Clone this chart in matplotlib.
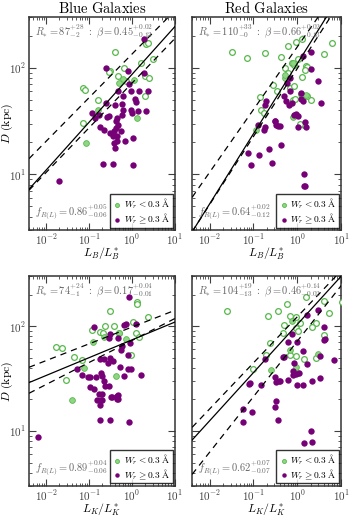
import matplotlib
matplotlib.use("Agg")
import matplotlib.pyplot as plt
import numpy as np
from matplotlib.ticker import LogLocator, NullFormatter, FuncFormatter

plt.rcParams['mathtext.fontset'] = 'cm'
plt.rcParams['font.family'] = 'serif'
plt.rcParams['font.serif'] = ['DejaVu Serif']

# ---- data (L/L*, D in kpc) ----
# top left: blue galaxies, L_B
tl_abs_x = [1.85, 0.243, 0.81, 1.87, 0.855, 0.965, 0.473, 1.44, 2.35, 0.624, 0.252, 1.19, 1.22,
            0.404, 0.59, 0.115, 0.17, 0.285, 0.44, 0.60, 0.57, 1.0, 0.137, 0.425, 0.26, 0.175,
            0.22, 0.31, 0.37, 0.43, 0.48, 0.55, 0.357, 0.44, 0.68, 1.07, 0.37, 0.456, 0.404,
            0.211, 0.364, 1.07, 0.020, 1.37, 2.1, 0.965]
tl_abs_y = [187, 99, 94, 90, 71, 61, 60, 60, 60, 54, 47, 51, 48,
            44.5, 46, 38, 36, 35, 34, 40.5, 36, 38, 34, 31.5, 34.7, 27.9,
            25.9, 24.5, 25.5, 27.5, 29.3, 25.7, 22.8, 22.8, 20.5, 21.7, 19.8, 20.5, 17.8,
            12.6, 12.6, 12.2, 8.6, 39, 39, 40.5]
tl_lim_x = [2.08, 2.31, 0.404, 3.0, 1.58, 0.30, 0.285, 0.658, 1.97, 2.53, 0.48, 0.72, 0.073,
            0.081, 0.16, 2.04, 0.073]
tl_lim_y = [168, 171, 140, 121, 112, 94, 92, 99, 84, 80, 84, 76, 65,
            62, 50, 54, 30.6]
tl_low_x = [0.60, 1.11, 0.162, 1.30, 0.087, 0.49]
tl_low_y = [79, 77, 40.5, 34, 19.8, 72]

# top right: red galaxies, L_B
tr_abs_x = [1.37, 2.07, 2.0, 2.88, 3.47, 1.24, 1.20, 1.32, 0.50, 0.556, 0.76, 0.634, 0.91, 1.04,
            0.125, 0.186, 0.316, 0.334, 0.40, 1.04, 1.52, 0.578, 0.69, 0.67, 0.193, 0.186,
            0.075, 0.134, 0.231, 0.423, 0.086, 0.268, 1.44, 1.39, 1.49, 0.304, 0.367, 0.86,
            1.58, 0.176]
tr_abs_y = [129, 142, 97, 74.5, 46.8, 58.7, 51, 49, 54, 49, 46.8, 44.5, 36.9, 35.6,
            28.9, 27.7, 31.5, 29.3, 28.7, 27.9, 31.1, 72, 80, 61, 48.4, 44.5,
            16, 15.1, 17.1, 18.8, 12.1, 12.7, 10, 7.7, 7.8, 32, 28.7, 36,
            27.9, 26.3]
tr_lim_x = [0.033, 0.073, 0.186, 0.423, 0.61, 0.95, 1.27, 6.1, 3.94, 0.76, 0.83, 1.06, 0.51,
            1.58, 1.66, 1.47, 1.27, 0.61, 0.279, 0.69, 0.83, 0.139, 0.79, 0.88, 1.20, 1.66,
            2.0, 0.147, 0.176, 0.88, 1.44, 1.16, 0.347]
tr_lim_y = [140, 125, 139, 126, 162, 174, 187, 173, 134, 111, 107, 121, 99,
            105, 103, 96, 83, 90, 69, 65, 67, 52.7, 50, 51, 56.7, 55,
            50, 40.5, 37.8, 36, 29.3, 30, 60]
tr_low_x = [0.80, 0.526, 0.526, 1.58, 0.83, 0.80, 0.116]
tr_low_y = [111, 80, 86, 56, 35, 34.6, 26]

# bottom left: blue galaxies, L_K
bl_abs_x = [0.855, 0.132, 0.658, 0.48, 0.295, 0.30, 0.705, 1.25, 0.571, 0.887, 0.81, 0.542,
            0.175, 0.219, 0.30, 0.351, 0.275, 0.525, 0.81, 0.934, 1.58, 0.648, 0.070, 0.105,
            0.142, 0.185, 0.20, 0.219, 0.231, 0.285, 0.13, 0.169, 0.20, 0.328, 0.463, 0.463,
            0.154, 0.20, 0.178, 0.181, 0.30, 0.84, 0.0065, 0.053, 0.096, 0.104, 0.339, 0.44,
            0.456, 0.187]
bl_abs_y = [188, 98.5, 102, 77.8, 76.8, 83.6, 104, 104, 64.1, 68.9, 53.6, 59.7,
            48.1, 48.1, 49.9, 46.4, 44.8, 40.7, 38.8, 38.8, 34.3, 33.1, 34.1, 32.4,
            32.4, 35.6, 33.6, 30.2, 27.1, 27.1, 25.2, 22.7, 22.7, 21.1, 21.9, 20.3,
            19.6, 19.6, 17.6, 12.6, 12.6, 12.1, 8.7, 38.8, 32.4, 26.2, 21.1, 21.6,
            20.3, 19.9]
bl_lim_x = [1.28, 1.30, 0.311, 2.35, 1.04, 0.115, 0.175, 0.208, 0.39, 0.0166, 0.0235, 0.045,
            0.068, 1.25, 1.44, 0.965, 0.0285, 0.24, 0.50]
bl_lim_y = [169, 163, 139, 121, 110, 91.8, 88.5, 85.4, 100.6, 63.2, 61.3, 50.6,
            47.4, 85.4, 78.4, 53.6, 30.8, 100.6, 86.5]
bl_low_x = [0.705, 0.123, 0.219, 0.077, 0.426, 0.039, 0.507]
bl_low_y = [75.6, 71.3, 78.4, 40.3, 33.6, 19.6, 86.5]

# bottom right: red galaxies, L_K
br_abs_x = [1.70, 2.88, 4.09, 4.09, 0.76, 1.0, 1.32, 0.50, 0.186, 0.83, 1.66, 3.29, 6.8,
            0.91, 0.79, 0.311, 0.40, 0.334, 2.15, 3.29, 1.32, 1.0, 0.080, 0.147, 0.60, 0.80,
            1.10, 4.16, 0.60, 0.482, 0.321, 0.304, 0.367, 0.0587, 0.093, 0.0587, 1.44, 2.07,
            2.19, 0.387, 0.085]
br_abs_y = [129, 143, 97.2, 74, 84, 69.8, 57.5, 50.6, 48.1, 44.8, 43.8, 51.7, 47.1,
            34.8, 34.3, 32.4, 30.2, 29.1, 30, 31.8, 27.5, 27.5, 28.1, 27.5, 30.6, 37.4,
            36.1, 75.2, 70.8, 50.9, 19.2, 17, 12.8, 16.1, 15.1, 12.1, 7.7, 10.1,
            7.9, 30.2, 28.5]
br_lim_x = [0.0244, 0.215, 0.353, 0.578, 1.58, 4.09, 10.2, 5.18, 0.69, 0.91, 1.16, 0.50, 2.64,
            2.15, 0.95, 1.06, 3.94, 0.244, 0.193, 0.096, 0.69, 0.91, 1.39, 2.64, 0.464]
br_lim_y = [139, 124, 138, 161, 191, 175, 171, 133, 126, 121, 108, 101.5, 106,
            98.5, 96.4, 89.8, 82.4, 68.9, 52.7, 39.4, 53.6, 51.7, 48.8, 49.9, 85.4]
br_low_x = [0.76, 0.69, 0.254, 0.91, 2.88, 1.04]
br_low_y = [112, 59.7, 37.9, 41.1, 54.7, 36.1]

# fit lines: (R*, beta) for best fit and the two dashed bounds
fits = {
    'tl': [(87, 0.45), (135, 0.41), (72, 0.42)],
    'tr': [(110, 0.66), (158, 0.59), (99, 0.64)],
    'bl': [(74, 0.17), (98, 0.16), (73, 0.21)],
    'br': [(104, 0.46), (123, 0.44), (72, 0.53)],
}
top_texts = {
    'tl': r'$R_{*} = 87^{+28}_{-2}\ :\ \beta = 0.45^{+0.02}_{-0.13}$',
    'tr': r'$R_{*} = 110^{+33}_{-0}\ :\ \beta = 0.66^{+0.02}_{-0.13}$',
    'bl': r'$R_{*} = 74^{+24}_{-1}\ :\ \beta = 0.17^{+0.04}_{-0.01}$',
    'br': r'$R_{*} = 104^{+19}_{-13}\ :\ \beta = 0.46^{+0.14}_{-0.02}$',
}
f_texts = {
    'tl': r'$f_{R(L)} = 0.86^{+0.05}_{-0.06}$',
    'tr': r'$f_{R(L)} = 0.64^{+0.02}_{-0.12}$',
    'bl': r'$f_{R(L)} = 0.89^{+0.04}_{-0.06}$',
    'br': r'$f_{R(L)} = 0.62^{+0.07}_{-0.07}$',
}

purple = '#760076'
green_edge = '#58b84c'
green_fill = '#8fd684'

fig = plt.figure(figsize=(3.5, 5.19), dpi=100)
ax_tl = fig.add_axes([0.083, 0.557, 0.417, 0.410])
ax_tr = fig.add_axes([0.549, 0.557, 0.426, 0.410])
ax_bl = fig.add_axes([0.083, 0.064, 0.417, 0.404])
ax_br = fig.add_axes([0.549, 0.064, 0.426, 0.404])

panels = [
    (ax_tl, 'tl', tl_abs_x, tl_abs_y, tl_lim_x, tl_lim_y, tl_low_x, tl_low_y),
    (ax_tr, 'tr', tr_abs_x, tr_abs_y, tr_lim_x, tr_lim_y, tr_low_x, tr_low_y),
    (ax_bl, 'bl', bl_abs_x, bl_abs_y, bl_lim_x, bl_lim_y, bl_low_x, bl_low_y),
    (ax_br, 'br', br_abs_x, br_abs_y, br_lim_x, br_lim_y, br_low_x, br_low_y),
]

xx = np.logspace(np.log10(0.004), 1, 100)

for ax, key, ax_x, ax_y, lx, ly, wx, wy in panels:
    ax.set_xscale('log')
    ax.set_yscale('log')
    ax.scatter(lx, ly, s=17, facecolors='white', edgecolors=green_edge, linewidths=0.9, zorder=3)
    ax.scatter(wx, wy, s=17, facecolors=green_fill, edgecolors=green_edge, linewidths=0.6,
               zorder=3, label=r'$W_r < 0.3\ \mathrm{\AA}$')
    ax.scatter(ax_x, ax_y, s=21, color=purple, linewidths=0, zorder=3,
               label=r'$W_r \geq 0.3\ \mathrm{\AA}$')

    (r0, b0), (r1, b1), (r2, b2) = fits[key]
    ax.plot(xx, r0 * xx ** b0, color='black', lw=0.9, zorder=4)
    ax.plot(xx, r1 * xx ** b1, color='black', lw=0.9, ls=(0, (5, 4)), zorder=4)
    ax.plot(xx, r2 * xx ** b2, color='black', lw=0.9, ls=(0, (5, 4)), zorder=4)

    ax.set_xlim(0.004, 10)
    ax.set_ylim(3, 300)

    ax.text(0.04, 0.975, top_texts[key], transform=ax.transAxes, ha='left', va='top',
            fontsize=7.5, color='0.4', zorder=5)
    ax.text(0.04, 0.085, f_texts[key], transform=ax.transAxes, ha='left', va='center',
            fontsize=7.5, color='0.4', zorder=5)

    leg = ax.legend(loc='lower right', fontsize=6.8, frameon=True, fancybox=False,
                    borderaxespad=0.25, borderpad=0.2, labelspacing=0.05, handletextpad=0.1,
                    handlelength=1.2, markerscale=0.7)
    leg.get_frame().set_edgecolor('black')
    leg.get_frame().set_linewidth(1.0)
    leg.set_zorder(6)

    ax.xaxis.set_major_locator(LogLocator(base=10, numticks=10))
    ax.xaxis.set_minor_locator(LogLocator(base=10, subs=np.arange(2, 10), numticks=20))
    ax.yaxis.set_major_locator(LogLocator(base=10, numticks=10))
    ax.yaxis.set_minor_locator(LogLocator(base=10, subs=np.arange(2, 10), numticks=20))
    ax.xaxis.set_minor_formatter(NullFormatter())
    ax.yaxis.set_minor_formatter(NullFormatter())
    fmt = FuncFormatter(lambda v, p: r'$10^{%d}$' % int(round(np.log10(v))))
    ax.xaxis.set_major_formatter(fmt)
    ax.yaxis.set_major_formatter(fmt)
    ax.tick_params(which='both', direction='in', top=True, right=True, labelsize=8,
                   colors='0.25', pad=2)
    ax.tick_params(which='major', length=5, width=0.8)
    ax.tick_params(which='minor', length=2.5, width=0.6)
    for s in ax.spines.values():
        s.set_color('0.2')
        s.set_linewidth(1.1)

for ax in (ax_tr, ax_br):
    ax.tick_params(labelleft=False)

ax_tl.set_title(r'$\mathrm{Blue\ Galaxies}$', fontsize=10.5, pad=3)
ax_tr.set_title(r'$\mathrm{Red\ Galaxies}$', fontsize=10.5, pad=3)
for ax in (ax_tl, ax_bl):
    ax.set_ylabel(r'$D\ \mathrm{(kpc)}$', fontsize=8.5)
    ax.yaxis.label.set_va('center')
    ax.yaxis.set_label_coords(-0.15, 0.5)
ax_tl.set_xlabel(r'$L_B/L_B^{*}$', fontsize=8.5)
ax_tr.set_xlabel(r'$L_B/L_B^{*}$', fontsize=8.5)
ax_bl.set_xlabel(r'$L_K/L_K^{*}$', fontsize=8.5)
ax_br.set_xlabel(r'$L_K/L_K^{*}$', fontsize=8.5)
for ax in (ax_tl, ax_tr, ax_bl, ax_br):
    ax.xaxis.set_label_coords(0.5, -0.075)
    ax.xaxis.label.set_va('top')

fig.savefig('out.png', dpi=100)
